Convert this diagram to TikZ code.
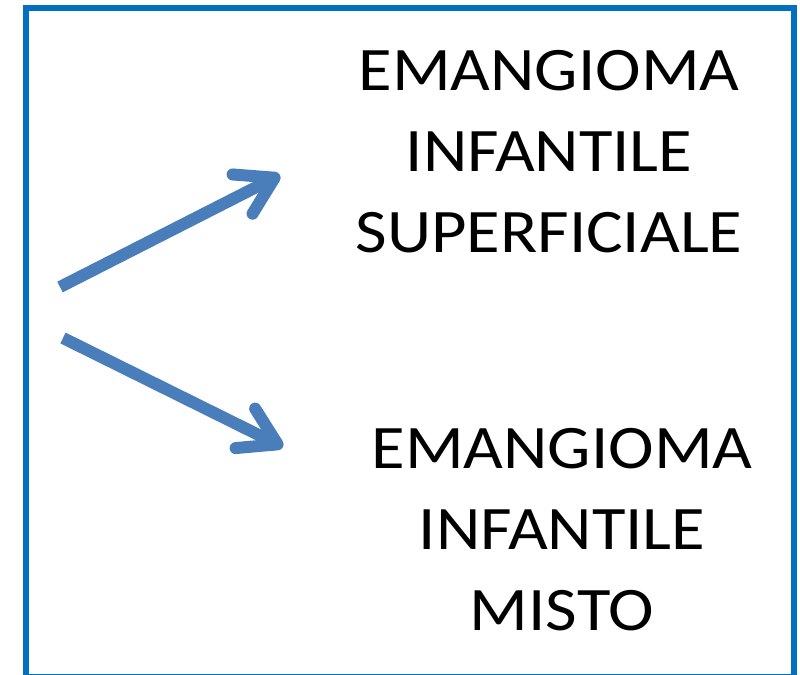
\documentclass[tikz,border=0pt]{standalone}
\usepackage{fontspec}
\setmainfont{Carlito}[FakeStretch=1.11]
\usepackage{tikz}
\usetikzlibrary{arrows.meta}
\definecolor{frameblue}{HTML}{0070C0}
\definecolor{arrowblue}{HTML}{4A7EBB}
\tikzset{
  border box/.style={draw=frameblue,line width=0.15cm},
  branch/.style={draw=arrowblue,line width=0.3cm,
    -{Straight Barb[length=0.9cm,width=1.1cm,line cap=round,line join=round]}},
  kind/.style={font=\fontsize{44}{57.6}\selectfont,align=center,
    inner sep=0pt,anchor=north}
}
\begin{document}
\begin{tikzpicture}[x=0.025cm,y=-0.025cm]
  \useasboundingbox (0,0) rectangle (800,675);
  \clip (0,0) rectangle (800,675);
  \draw[border box] (26,8) rectangle (794,677);
  \node[kind] (superf) at (549,50) {EMANGIOMA\\INFANTILE\\SUPERFICIALE};
  \node[kind] (misto) at (562,428) {EMANGIOMA\\INFANTILE\\MISTO};
  \coordinate (start up) at (60,287);
  \coordinate (tip up) at (280,175);
  \coordinate (start down) at (63,338);
  \coordinate (tip down) at (283,447);
  \draw[branch] (start up) -- (tip up);
  \draw[branch] (start down) -- (tip down);
\end{tikzpicture}
\end{document}
